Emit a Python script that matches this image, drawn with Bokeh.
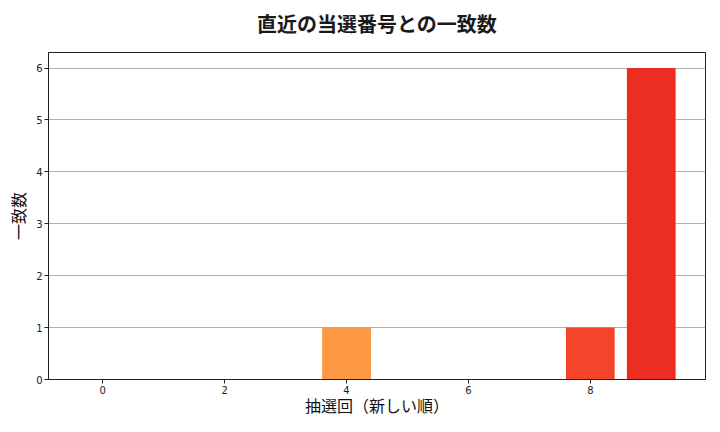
from bokeh.embed import file_html
from bokeh.models import ColumnDataSource, Range1d, FixedTicker
from bokeh.plotting import figure
from bokeh.resources import INLINE

# draws, newest last in the chart
draw_index = [0, 1, 2, 3, 4, 5, 6, 7, 8, 9]
match_counts = [0, 0, 0, 0, 1, 0, 0, 0, 1, 6]
bar_colors = ["#ffe08a", "#fed170", "#fec05c", "#feac4c", "#fc9842",
              "#fb8136", "#f96a31", "#f7572e", "#f4452b", "#ec2d22"]

x_ticks = [0, 2, 4, 6, 8]
y_ticks = [0, 1, 2, 3, 4, 5, 6]

JP_FONT = "Noto Sans CJK JP"
TICK_FONT = "DejaVu Sans"

source = ColumnDataSource(data=dict(x=draw_index, top=match_counts, color=bar_colors))

p = figure(frame_width=657, frame_height=327, output_backend="svg", toolbar_location=None,
           x_range=Range1d(-0.89, 9.89), y_range=Range1d(0, 6.3),
           min_border_left=48, min_border_right=6, min_border_top=52, min_border_bottom=45,
           title="直近の当選番号との一致数")

p.vbar(x="x", top="top", bottom=0, width=0.8, source=source, fill_color="color", line_color=None)

# title, lifted away from the frame with bottom padding
p.title.align = "center"
p.title.vertical_align = "top"
p.title.text_font = JP_FONT
p.title.text_font_size = "20px"
p.title.text_font_style = "bold"
p.title.text_color = "#1a1a1a"
p.title.standoff = 0
p.title.padding = dict(left=0, right=0, top=0, bottom=13)

# frame like matplotlib spines
p.outline_line_color = "#222222"
p.outline_line_width = 1
p.outline_line_alpha = 1

p.xgrid.grid_line_color = None
p.ygrid.grid_line_color = "#b0b0b0"
p.ygrid.grid_line_width = 1

p.xaxis.ticker = FixedTicker(ticks=x_ticks)
p.yaxis.ticker = FixedTicker(ticks=y_ticks)
p.xaxis.axis_label = "抽選回（新しい順）"
p.yaxis.axis_label = "一致数"

for ax in (p.xaxis, p.yaxis):
    ax.axis_line_color = "#222222"
    ax.major_tick_line_color = "#222222"
    ax.major_tick_out = 4
    ax.major_tick_in = 0
    ax.minor_tick_line_color = None
    ax.major_label_text_font = TICK_FONT
    ax.major_label_text_font_size = "10px"
    ax.major_label_text_color = "#222222"
    ax.major_label_standoff = 2
    ax.axis_label_text_font = JP_FONT
    ax.axis_label_text_font_size = "16px"
    ax.axis_label_text_font_style = "normal"
    ax.axis_label_text_color = "#111111"
    ax.axis_label_standoff = 2

p.xaxis.axis_label_standoff = -4
p.yaxis.axis_label_standoff = 3

open("out.html", "w").write(file_html(p, INLINE))
